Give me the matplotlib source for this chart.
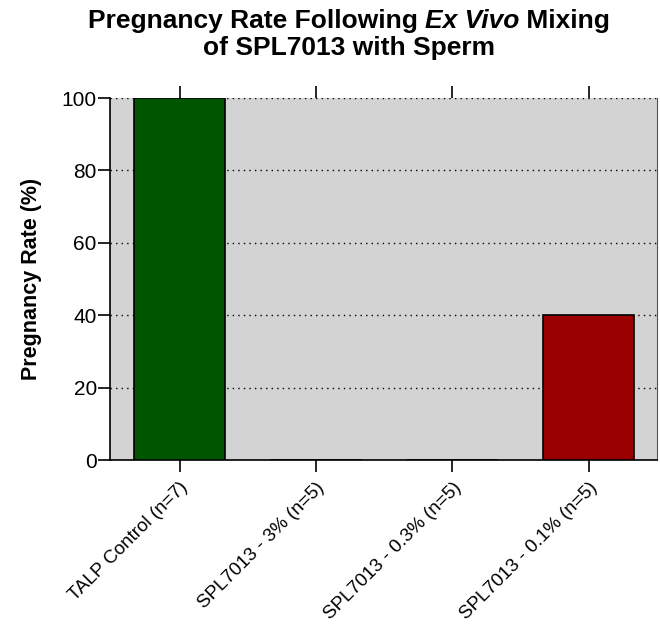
import numpy as np
import matplotlib
matplotlib.use("Agg")
import matplotlib.pyplot as plt
import matplotlib.transforms as mtransforms

plt.rcParams['font.family'] = ['Liberation Sans', 'DejaVu Sans']

groups = ["TALP Control (n=7)", "SPL7013 - 3% (n=5)", "SPL7013 - 0.3% (n=5)", "SPL7013 - 0.1% (n=5)"]
rates = [100, 0, 0, 40]
colors = ["#005500", "#5a6a8a", "#8a8a50", "#9b0000"]

fig = plt.figure(figsize=(6.6, 6.32), dpi=100)
ax = fig.add_axes([110 / 660, 1 - 460 / 632, 547 / 660, 362 / 632])
ax.set_facecolor("#d3d3d3")

x = np.arange(len(groups))
ax.bar(x, rates, width=0.67, color=colors, edgecolor="black", linewidth=1.2, zorder=3)

ax.set_xlim(-0.51, 3.5)
ax.set_ylim(0, 100)
ax.set_yticks([0, 20, 40, 60, 80, 100])
ax.yaxis.grid(True, linestyle=(0, (1, 3)), color="black", linewidth=1.0, zorder=1)
ax.set_axisbelow(True)

ax.set_xticks(x)
ax.set_xticklabels(groups, rotation=45, ha="right", rotation_mode="anchor", fontsize=13.5)
shift = mtransforms.ScaledTranslation(6 / 100, 0, fig.dpi_scale_trans)
for lbl in ax.get_xticklabels():
    lbl.set_transform(lbl.get_transform() + shift)
ax.tick_params(axis="x", which="both", direction="out", length=8.5, width=1.2, top=True, pad=5)
ax.tick_params(axis="y", direction="out", length=8.5, width=1.2, labelsize=15, pad=1)

ax.spines["top"].set_visible(False)
ax.spines["left"].set_linewidth(1.2)
ax.spines["bottom"].set_linewidth(1.2)
ax.spines["right"].set_linewidth(0.8)
ax.spines["right"].set_color("#555555")

ax.set_ylabel("Pregnancy Rate (%)", fontsize=15.5, fontweight="bold")
ax.yaxis.set_label_coords(-0.124, 0.5)

# title, with "Ex Vivo" in bold italic
parts = [("Pregnancy Rate Following ", "normal"), ("Ex Vivo", "italic"), (" Mixing", "normal")]
fig.canvas.draw()
renderer = fig.canvas.get_renderer()
texts = []
for s, st in parts:
    t = fig.text(0, 1 - 21 / 632, s, fontsize=19, fontweight="bold", style=st, va="center", ha="left")
    texts.append(t)
widths = [t.get_window_extent(renderer).width for t in texts]
total = sum(widths)
x0 = 349 - total / 2
for t, w in zip(texts, widths):
    t.set_x(x0 / 660)
    x0 += w
fig.text(349 / 660, 1 - 48 / 632, "of SPL7013 with Sperm", fontsize=19, fontweight="bold", ha="center", va="center")

fig.savefig("out.png", dpi=100)
